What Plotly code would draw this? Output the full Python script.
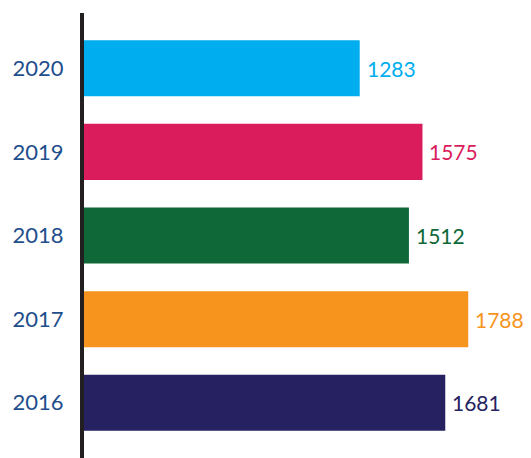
import plotly.graph_objects as go

years = ["2016", "2017", "2018", "2019", "2020"]
values = [1681, 1788, 1512, 1575, 1283]
colors = ["#262262", "#F7941E", "#0E6837", "#DA1C5C", "#00AEEF"]

pos = list(range(len(years)))

fig = go.Figure(go.Bar(
    x=values, y=pos, orientation="h",
    marker=dict(color=colors, line=dict(width=0)),
    width=0.67, hoverinfo="skip",
))

for p, v, c in zip(pos, values, colors):
    fig.add_annotation(x=v, y=p, text=str(v), showarrow=False,
                       xanchor="left", yanchor="middle", xshift=5,
                       font=dict(family="Lato", size=21, color=c))

fig.update_layout(
    width=531, height=458,
    margin=dict(l=84, r=0, t=13, b=0),
    paper_bgcolor="white", plot_bgcolor="white",
    showlegend=False,
    xaxis=dict(range=[0, 2080], visible=False, fixedrange=True),
    yaxis=dict(range=[-0.66, 4.66], tickvals=pos, ticktext=years,
               showgrid=False, zeroline=False, showline=True,
               linecolor="#231F20", linewidth=4, ticks="",
               ticklabelstandoff=12, automargin=False,
               tickfont=dict(family="Lato", size=22, color="#1F4E8C")),
)

fig.write_html("out.html", config={"displayModeBar": False},
               post_script="document.body.style.margin='0';document.body.style.overflow='hidden';")
